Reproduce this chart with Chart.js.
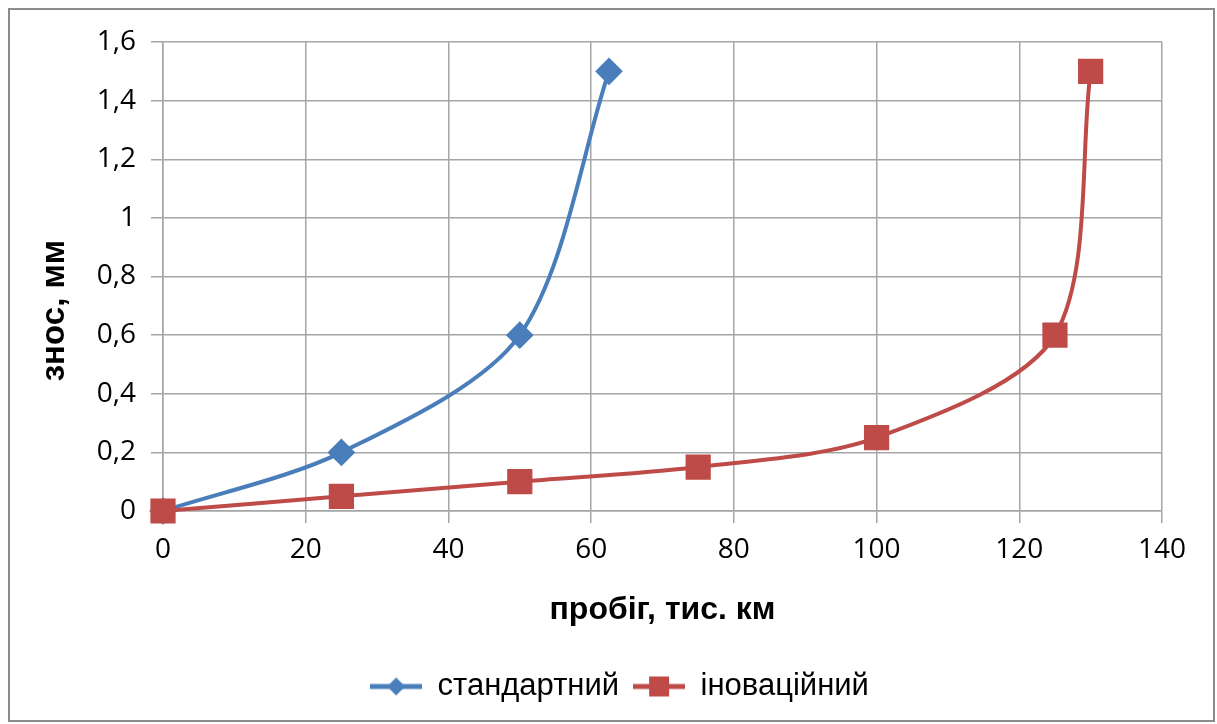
<!DOCTYPE html>
<html>
<head>
<meta charset="utf-8">
<script src="https://cdn.jsdelivr.net/npm/chart.js@4"></script>
<style>
  html, body { margin: 0; padding: 0; background: #fff; }
  #wrap { position: absolute; left: 0; top: 0; width: 1217px; height: 724px; }
  #frame { position: absolute; left: 8px; top: 8px; width: 1203px; height: 710px; border: 2px solid #8c8c8c; pointer-events: none; }
</style>
</head>
<body>
<div id="wrap"><canvas id="myChart" width="1217" height="724"></canvas></div>
<div id="frame"></div>
<script>
// дані з графіка
const mileageStd = [0, 25, 50, 62.5];
const wearStd = [0, 0.2, 0.6, 1.5];
const mileageInno = [0, 25, 50, 75, 100, 125, 130];
const wearInno = [0, 0.05, 0.1, 0.15, 0.25, 0.6, 1.5];
const seriesNames = ['стандартний', 'іноваційний'];
const yTitle = 'знос, мм';
const xTitle = 'пробіг, тис. км';
const blue = '#4a7ebb';
const red = '#be4b48';

function toPoints(xs, ys) {
    return xs.map((x, i) => ({ x: x, y: ys[i] }));
}

// маленькі іконки для легенди: лінія + маркер
function legendIcon(color, kind) {
    const c = document.createElement('canvas');
    c.width = 52; c.height = 24;
    const g = c.getContext('2d');
    g.strokeStyle = color;
    g.lineWidth = 5;
    g.beginPath(); g.moveTo(0, 12); g.lineTo(52, 12); g.stroke();
    g.fillStyle = color;
    g.beginPath();
    if (kind === 'diamond') {
        g.moveTo(26, 3); g.lineTo(35, 12); g.lineTo(26, 21); g.lineTo(17, 12);
    } else {
        g.rect(16, 2, 20, 20);
    }
    g.fill();
    return c;
}

// назва осі Y трохи нижче центру, як в оригіналі
const yTitlePlugin = {
    id: 'yTitlePlugin',
    afterDraw(chart) {
        const a = chart.chartArea;
        const g = chart.ctx;
        g.save();
        g.translate(55, (a.top + a.bottom) / 2 + 34);
        g.rotate(-Math.PI / 2);
        g.font = 'bold 33px "Liberation Sans", Arial';
        g.fillStyle = '#000';
        g.textAlign = 'center';
        g.textBaseline = 'middle';
        g.fillText(yTitle, 0, 0);
        g.restore();
    }
};

const ctx = document.getElementById('myChart').getContext('2d');
const myChart = new Chart(ctx, {
    type: 'line',
    data: {
        datasets: [{
            label: seriesNames[0],
            data: toPoints(mileageStd, wearStd),
            borderColor: blue,
            backgroundColor: blue,
            borderWidth: 4,
            pointStyle: 'rectRot',
            pointRadius: 11,
            pointHoverRadius: 11,
            tension: 0.3,
            clip: false,
            order: 1
        }, {
            label: seriesNames[1],
            data: toPoints(mileageInno, wearInno),
            borderColor: red,
            backgroundColor: red,
            borderWidth: 4,
            pointStyle: 'rect',
            pointRadius: 15,
            pointHoverRadius: 15,
            tension: 0.3,
            clip: false,
            order: 0
        }]
    },
    options: {
        responsive: false,
        animation: false,
        layout: { padding: { left: 22, right: 0, top: 42, bottom: 12 } },
        plugins: {
            tooltip: { enabled: false },
            legend: {
                position: 'bottom',
                labels: {
                    usePointStyle: true,
                    pointStyleWidth: 52,
                    boxHeight: 24,
                    padding: 14,
                    color: '#000',
                    font: { family: 'Liberation Sans, Arial', size: 31 },
                    generateLabels: function () {
                        return [
                            { text: seriesNames[0], pointStyle: legendIcon(blue, 'diamond'), fillStyle: blue, strokeStyle: blue, lineWidth: 0, fontColor: '#000', datasetIndex: 0 },
                            { text: seriesNames[1], pointStyle: legendIcon(red, 'square'), fillStyle: red, strokeStyle: red, lineWidth: 0, fontColor: '#000', datasetIndex: 1 }
                        ];
                    }
                }
            }
        },
        scales: {
            x: {
                type: 'linear',
                min: 0,
                max: 140,
                ticks: {
                    stepSize: 20,
                    color: '#000',
                    padding: 10,
                    font: { family: 'Open Sans', size: 28 }
                },
                grid: { color: '#a6a6a6', lineWidth: 1.5, tickLength: 12 },
                border: { color: '#a6a6a6', width: 1.5 },
                title: {
                    display: true,
                    text: xTitle,
                    color: '#000',
                    font: { family: 'Liberation Sans, Arial', size: 32, weight: 'bold' },
                    padding: { top: 0, bottom: 28 }
                },
                afterFit: function (s) { s.height = 146; }
            },
            y: {
                min: 0,
                max: 1.6,
                ticks: {
                    stepSize: 0.2,
                    color: '#000',
                    padding: 15,
                    font: { family: 'Open Sans', size: 28 },
                    callback: function (v) { return (Math.round(v * 10) / 10).toString().replace('.', ','); }
                },
                grid: { color: '#a6a6a6', lineWidth: 1.5, tickLength: 12 },
                border: { color: '#a6a6a6', width: 1.5 },
                afterFit: function (s) { s.width = 141; }
            },
            // порожня права вісь лише для відступу справа
            yRight: {
                position: 'right',
                min: 0,
                max: 1.6,
                ticks: { display: false },
                grid: { display: false },
                border: { display: false },
                afterFit: function (s) { s.width = 55; }
            }
        }
    },
    plugins: [yTitlePlugin]
});
</script>
</body>
</html>
